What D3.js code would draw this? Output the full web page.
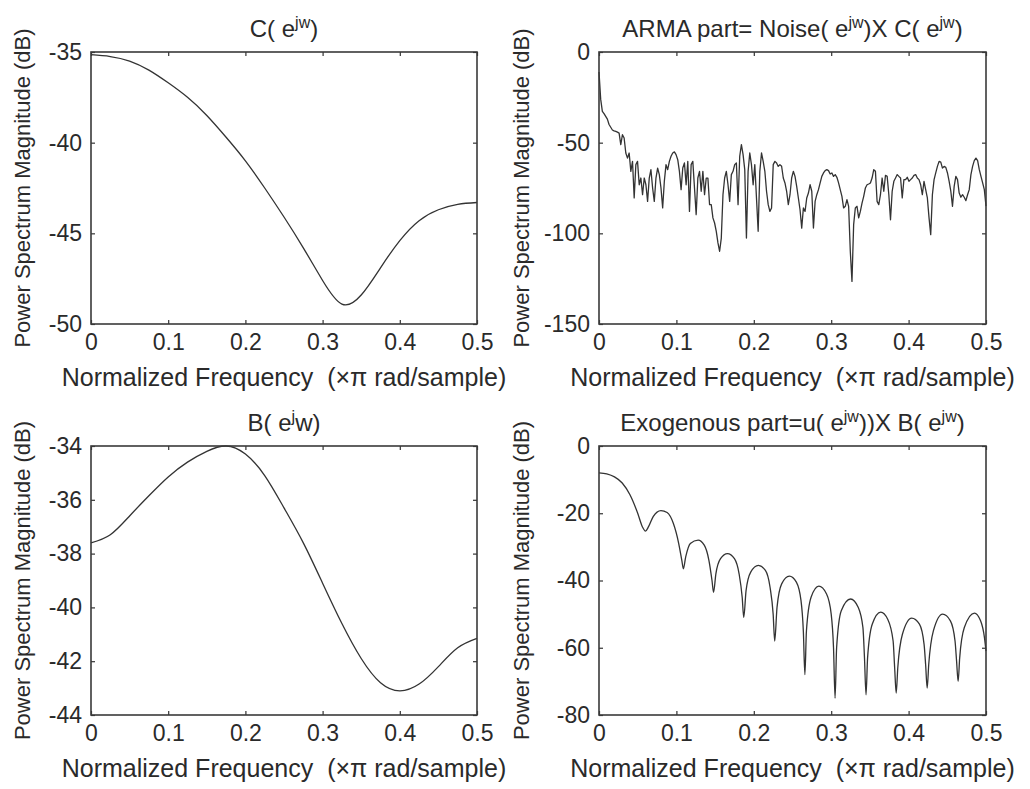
<!DOCTYPE html>
<html>
<head>
<meta charset="utf-8">
<title>power spectra</title>
<script src="https://d3js.org/d3.v7.min.js"></script>
<style>
  body { margin:0; background:#fff; }
  text { font-family:"Liberation Sans", Arial, sans-serif; fill:#2a2a2a; }
  .domain { display:none; }
  .tick line { stroke:#333; stroke-width:1.2; }
</style>
</head>
<body>
<svg id="fig" width="1030" height="789"></svg>
<script>
// ---- data ----
const freqTicks = [0, 0.1, 0.2, 0.3, 0.4, 0.5];

// C(e^jw)
const cFreq = [0, 0.025, 0.05, 0.075, 0.1, 0.125, 0.15, 0.175, 0.2, 0.225, 0.25,
               0.275, 0.3, 0.325, 0.35, 0.375, 0.4, 0.425, 0.45, 0.475, 0.5];
const cDb   = [-35.15, -35.25, -35.5, -36.0, -36.7, -37.5, -38.5, -39.7, -41.0, -42.5, -44.1,
               -45.8, -47.6, -48.9, -48.4, -46.9, -45.4, -44.3, -43.7, -43.4, -43.3];
const cTicks = [-50, -45, -40, -35];

// ARMA part, evenly spaced over 0..0.5
const armaDb = [
  -11, -26, -32.7, -34, -35.5, -37, -40, -41.5, -43, -43.5, -43.8, -44.2, -44.7, -51.1, -45.6, -47.4,
  -55.7, -58.5, -55.7, -65.8, -60.3, -80.5, -62.1, -60.3, -73.2, -69.5, -78.7, -69.5, -73.2, -82.4,
  -69.5, -64.9, -75, -82.4, -69.5, -64, -67.6, -75, -86, -71.3, -62.1, -64.9, -60.3, -57.5, -55.7,
  -55.1, -56.6, -59.4, -65.8, -75.9, -64, -61.2, -73.2, -60.3, -87.9, -62.1, -60.3, -75, -89.7,
  -69.5, -65.8, -76.8, -65.8, -78.7, -69.5, -69.5, -84.2, -84.2, -91.5, -94.3, -98.9, -105.3,
  -109.9, -102.6, -78.7, -69.5, -65.8, -73.2, -82.4, -67.6, -65.8, -62.1, -61.2, -84.2, -57.5,
  -51.1, -56.6, -64.9, -102.6, -65.8, -55.7, -62.1, -73.2, -62.1, -80.5, -98.9, -65.8, -55.7,
  -60.3, -65.8, -76.8, -84.2, -87.9, -86, -62.1, -60.3, -61.2, -63.1, -62.1,
  -63, -69.5, -72.2, -76.8, -84.2, -78.7, -69.5, -65.8, -68.6, -74.1, -80.5, -87, -97.1, -86,
  -87.9, -80.5, -77.8, -73.2, -76.8, -97.1, -82.4, -78.7, -75.9, -72.2, -68.6, -66.7, -65.4,
  -64.9, -65.4, -67.3, -66.7, -68.6, -67.6, -69.1, -72.2, -75.9, -79.6, -86, -85.1, -81.4, -85.1,
  -109.9, -126.5, -95.2, -86, -85.1, -91.5, -87.9, -83.3, -79.6, -75, -73.2, -72.8, -72.2, -69.5,
  -64.9, -65.8, -82.4, -84.2, -78.7, -69.5, -76.8, -68, -68.6, -78.7, -92.5, -76.8, -71.3, -69.5,
  -67.6, -68.6, -69.5, -80.5, -70.4, -70.4, -69.1, -71.3, -70.4, -69.5, -68, -67.6, -69.5, -70.4,
  -73.2, -78.7, -71.3, -75.9, -80.5, -91.5, -100.7, -78.7, -70.4, -66.7, -63.1, -60.3, -60.7, -64,
  -63.1, -63.6, -66.7, -71.3, -76.8, -85.1, -74.1, -68.6, -70.4, -77.8, -80.1, -78.7, -80.1, -82,
  -78.7, -75.9, -67.6, -63.1, -59.9, -58.5, -59.9, -64.9, -68.6, -72.2, -75.9, -85
];
const armaTicks = [-150, -100, -50, 0];

// B(e^jw)
const bFreq = [0, 0.025, 0.05, 0.075, 0.1, 0.125, 0.15, 0.175, 0.2, 0.225, 0.25, 0.275,
               0.3, 0.325, 0.35, 0.375, 0.4, 0.425, 0.45, 0.475, 0.5];
const bDb   = [-37.6, -37.3, -36.6, -35.85, -35.15, -34.6, -34.2, -34.0, -34.3, -35.1, -36.3, -37.6,
               -39.1, -40.6, -41.9, -42.8, -43.1, -42.85, -42.2, -41.5, -41.15];
const bTicks = [-44, -42, -40, -38, -36, -34];

// Exogenous part
const exoFreq = [0, 0.01, 0.02, 0.03, 0.04, 0.05, 0.056, 0.06, 0.064, 0.07, 0.08, 0.088, 0.096,
  0.103, 0.107, 0.109, 0.112, 0.118, 0.128, 0.136, 0.142, 0.146, 0.148, 0.151, 0.157, 0.166,
  0.175, 0.181, 0.185, 0.187, 0.19, 0.196, 0.206, 0.215, 0.221, 0.225, 0.227, 0.23, 0.236, 0.246,
  0.255, 0.261, 0.264, 0.266, 0.268, 0.274, 0.284, 0.294, 0.3, 0.303, 0.305, 0.307, 0.313, 0.325,
  0.335, 0.341, 0.343, 0.345, 0.347, 0.353, 0.364, 0.373, 0.38, 0.382, 0.384, 0.386, 0.392, 0.404,
  0.414, 0.42, 0.422, 0.424, 0.426, 0.432, 0.444, 0.454, 0.46, 0.462, 0.464, 0.466, 0.472, 0.485,
  0.493, 0.498, 0.5];
const exoDb = [-8, -8.3, -9.2, -11, -14.5, -20, -24, -25.3, -24, -21, -19.2, -19.8, -23,
  -29, -34, -36.5, -33, -29, -28, -29.5, -34, -40, -43.5, -38, -33.5, -32,
  -33.5, -38, -45, -51, -43, -37.5, -35.5, -37, -42, -50, -58, -48, -41, -38.7,
  -40.5, -46, -55, -68, -55, -45, -41.7, -44, -50, -60, -75, -60, -49, -45.5,
  -48, -54, -63, -74, -63, -53, -49.4, -51.5, -58, -66, -73.5, -66, -56, -51.2,
  -53, -59, -65, -72, -65, -55, -50, -52, -58, -64, -70, -63, -54, -49.7,
  -52, -57, -61];
const exoTicks = [-80, -60, -40, -20, 0];

const armaFreq = armaDb.map((d, i) => i * 0.5 / (armaDb.length - 1));

// ---- layout ----
const svg = d3.select('#fig');
svg.append('rect').attr('width', 1030).attr('height', 789).attr('fill', '#fff');

const panels = [
  {x0:91,  x1:477, y0:52,  y1:324, yd:[-50,-35], yt:cTicks,    fx:cFreq,    fy:cDb,    curve:d3.curveNatural,
   title:[['C( e',0],['jw',1],[')',0]], ylx:22},
  {x0:599, x1:986, y0:52,  y1:324, yd:[-150,0],  yt:armaTicks, fx:armaFreq, fy:armaDb, curve:d3.curveLinear,
   title:[['ARMA part= Noise( e',0],['jw',1],[')X C( e',0],['jw',1],[')',0]], ylx:521},
  {x0:91,  x1:477, y0:446, y1:715, yd:[-44,-34], yt:bTicks,    fx:bFreq,    fy:bDb,    curve:d3.curveNatural,
   title:[['B( e',0],['j',1],['w)',0]], ylx:22},
  {x0:599, x1:986, y0:446, y1:715, yd:[-80,0],   yt:exoTicks,  fx:exoFreq,  fy:exoDb,  curve:d3.curveMonotoneX,
   title:[['Exogenous part=u( e',0],['jw',1],['))X B( e',0],['jw',1],[')',0]], ylx:521}
];

panels.forEach(p => {
  const x = d3.scaleLinear().domain([0, 0.5]).range([p.x0, p.x1]);
  const y = d3.scaleLinear().domain(p.yd).range([p.y1, p.y0]);
  const g = svg.append('g');
  const fmt = d => String(d);

  // ticks, inward on all four sides
  g.append('g').attr('transform', `translate(0,${p.y1})`)
    .call(d3.axisBottom(x).tickValues(freqTicks).tickFormat(fmt).tickSizeInner(-4).tickSizeOuter(0).tickPadding(10))
    .call(a => a.selectAll('text').attr('font-size', 23));
  g.append('g').attr('transform', `translate(0,${p.y0})`)
    .call(d3.axisTop(x).tickValues(freqTicks).tickFormat('').tickSizeInner(-4).tickSizeOuter(0));
  g.append('g').attr('transform', `translate(${p.x0},0)`)
    .call(d3.axisLeft(y).tickValues(p.yt).tickFormat(fmt).tickSizeInner(-4).tickSizeOuter(0).tickPadding(9))
    .call(a => a.selectAll('text').attr('font-size', 23));
  g.append('g').attr('transform', `translate(${p.x1},0)`)
    .call(d3.axisRight(y).tickValues(p.yt).tickFormat('').tickSizeInner(-4).tickSizeOuter(0));
  g.selectAll('.tick text').attr('fill', '#2a2a2a').style('font-family', '"Liberation Sans", Arial, sans-serif');

  // curve
  const pts = p.fx.map((f, i) => [f, p.fy[i]]);
  g.append('path').datum(pts)
    .attr('fill', 'none').attr('stroke', '#333').attr('stroke-width', 1.3)
    .attr('stroke-linejoin', 'round')
    .attr('d', d3.line().x(d => x(d[0])).y(d => y(d[1])).curve(p.curve));

  // box
  g.append('rect').attr('x', p.x0).attr('y', p.y0)
    .attr('width', p.x1 - p.x0).attr('height', p.y1 - p.y0)
    .attr('fill', 'none').attr('stroke', '#3a3a3a').attr('stroke-width', 1.6);

  // title with superscripts
  const t = g.append('text').attr('x', (p.x0 + p.x1) / 2).attr('y', p.y0 - 15)
    .attr('text-anchor', 'middle').attr('font-size', 24).style('white-space', 'pre');
  let up = false;
  p.title.forEach(([s, sup]) => {
    const ts = t.append('tspan').text(s);
    if (sup && !up) { ts.attr('dy', -9).attr('font-size', 16); up = true; }
    else if (!sup && up) { ts.attr('dy', 9); up = false; }
    else if (sup) ts.attr('font-size', 16);
  });

  // axis labels
  g.append('text').attr('x', (p.x0 + p.x1) / 2).attr('y', p.y1 + 62)
    .attr('text-anchor', 'middle').attr('font-size', 25).style('white-space', 'pre')
    .text('Normalized Frequency  (\u00d7\u03c0 rad/sample)');
  g.append('text')
    .attr('transform', `translate(${p.ylx + 8},${(p.y0 + p.y1) / 2}) rotate(-90)`)
    .attr('text-anchor', 'middle').attr('font-size', 22)
    .text('Power Spectrum Magnitude (dB)');
});
</script>
</body>
</html>
